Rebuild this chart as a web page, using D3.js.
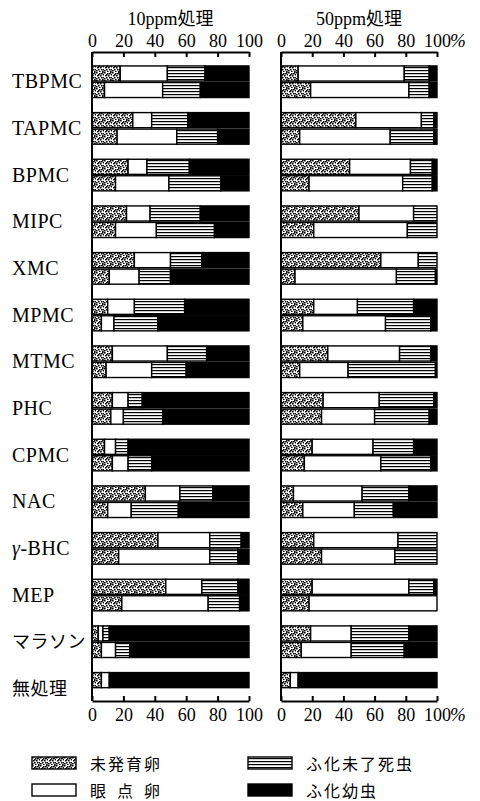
<!DOCTYPE html>
<html>
<head>
<meta charset="utf-8">
<script src="https://cdn.jsdelivr.net/npm/d3@7"></script>
<style>
  body { margin: 0; background: #fff; }
</style>
</head>
<body>
<div id="chart-area"></div>
<script>
// 薬剤ごとのふ化調査 (上段/下段の2本, 単位 %)
var categories = ["TBPMC", "TAPMC", "BPMC", "MIPC", "XMC", "MPMC", "MTMC",
                  "PHC", "CPMC", "NAC", "γ-BHC", "MEP", "マラソン", "無処理"];
var stages = ["未発育卵", "眼点卵", "ふ化未了死虫", "ふ化幼虫"];
var panelTitles = ["10ppm処理", "50ppm処理"];
var tickValues = [0, 20, 40, 60, 80, 100];

// [未発育卵, 眼点卵, ふ化未了死虫, ふ化幼虫]
var ppm10Upper = [
  [18, 30, 24, 28], [26, 12, 23, 39], [23, 12, 27, 38], [22, 15, 32, 31],
  [27, 23, 20, 30], [10, 17, 32, 41], [13, 35, 25, 27], [13, 10, 9, 68],
  [8, 7, 8, 77], [34, 22, 21, 23], [42, 33, 20, 5], [47, 23, 23, 7],
  [4, 3, 4, 89], [6, 5, 0, 89]
];
var ppm10Lower = [
  [8, 37, 24, 31], [16, 38, 26, 20], [15, 34, 33, 18], [15, 26, 37, 22],
  [11, 19, 20, 50], [6, 8, 28, 58], [9, 29, 22, 40], [12, 8, 25, 55],
  [13, 10, 15, 62], [10, 15, 30, 45], [17, 58, 18, 7], [19, 55, 20, 6],
  [6, 9, 9, 76], null
];
var ppm50Upper = [
  [11, 68, 16, 5], [48, 42, 8, 2], [44, 39, 14, 3], [50, 35, 15, 0],
  [64, 24, 12, 0], [21, 28, 36, 15], [30, 46, 20, 4], [27, 36, 35, 2],
  [20, 39, 26, 15], [8, 44, 30, 18], [21, 54, 25, 0], [20, 62, 16, 2],
  [19, 26, 37, 18], [6, 5, 0, 89]
];
var ppm50Lower = [
  [19, 63, 13, 5], [12, 58, 28, 2], [18, 60, 19, 3], [21, 60, 19, 0],
  [9, 65, 25, 1], [14, 53, 29, 4], [12, 31, 56, 1], [26, 34, 35, 5],
  [15, 49, 32, 4], [14, 33, 25, 28], [26, 47, 27, 0], [18, 82, 0, 0],
  [13, 32, 34, 21], null
];

var W = 480, H = 801;
var serif = "'Liberation Serif', 'DejaVu Serif', 'Noto Sans CJK JP', serif";
var cjk = "'Noto Sans CJK JP', sans-serif";
var axisTopY = 52, axisBottomY = 701;

var svg = d3.select('#chart-area').append('svg')
    .attr('width', W)
    .attr('height', H);

svg.append('rect').attr('width', W).attr('height', H).attr('fill', '#fff');

// 模様
var defs = svg.append('defs');
var stip = defs.append('pattern')
    .attr('id', 'stipple')
    .attr('patternUnits', 'userSpaceOnUse')
    .attr('width', 8).attr('height', 8);
stip.append('rect').attr('width', 8).attr('height', 8).attr('fill', '#fff');
var dots = [[0,0],[3,1],[6,0],[1,3],[4,3],[7,2],[2,5],[5,5],[0,6],[6,7],[3,7],[7,5],[5,1],[2,2]];
dots.forEach(function(p){
  stip.append('rect').attr('x', p[0]).attr('y', p[1])
      .attr('width', 1.6).attr('height', 1.5).attr('fill', '#000');
});
var hatch = defs.append('pattern')
    .attr('id', 'hatch')
    .attr('patternUnits', 'userSpaceOnUse')
    .attr('width', 6).attr('height', 3);
hatch.append('rect').attr('width', 6).attr('height', 3).attr('fill', '#fff');
hatch.append('rect').attr('y', 1).attr('width', 6).attr('height', 1.2).attr('fill', '#000');

var fills = d3.scaleOrdinal()
    .domain(stages)
    .range(['url(#stipple)', '#fff', 'url(#hatch)', '#000']);

// 縦方向
var y = d3.scaleBand()
    .domain(categories)
    .range([58.4, 711.7]);
var rowH = 16.5;

// 薬剤名
var labels = svg.append('g').selectAll('text')
    .data(categories)
    .enter()
    .append('text')
      .attr('x', 12)
      .attr('y', function(d){ return y(d) + y.bandwidth() / 2 + 6.5; })
      .attr('font-family', function(d){ return /[A-Z]/.test(d) ? serif : cjk; })
      .attr('font-size', function(d){ return /[A-Z]/.test(d) ? 20 : 18; })
      .attr('letter-spacing', function(d){ return /[A-Z]/.test(d) ? 0.5 : 0.5; })
      .attr('fill', '#000');
labels.each(function(d){
  var t = d3.select(this);
  if (d.charAt(0) === 'γ') {
    t.append('tspan').attr('font-style', 'italic').text('γ');
    t.append('tspan').text(d.slice(1));
  } else {
    t.text(d);
  }
});

var panels = [
  { title: panelTitles[0], upper: ppm10Upper, lower: ppm10Lower, range: [92, 249], pct: false },
  { title: panelTitles[1], upper: ppm50Upper, lower: ppm50Lower, range: [281, 437], pct: true }
];

function stackRow(vals) {
  var start = 0;
  return vals.map(function(v, i){
    var seg = { stage: stages[i], x0: start, x1: start + v };
    start += v;
    return seg;
  }).filter(function(s){ return s.x1 > s.x0; });
}

panels.forEach(function(p){
  var x = d3.scaleLinear().domain([0, 100]).range(p.range);
  var g = svg.append('g');

  // 棒
  [p.upper, p.lower].forEach(function(rows, r){
    rows.forEach(function(vals, i){
      if (!vals) return;
      var top = y(categories[i]) + y.bandwidth() / 2 - rowH + r * rowH;
      g.append('g').selectAll('rect')
        .data(stackRow(vals))
        .enter()
        .append('rect')
          .attr('x', function(d){ return x(d.x0); })
          .attr('y', top + 0.7)
          .attr('width', function(d){ return x(d.x1) - x(d.x0); })
          .attr('height', rowH - 1.4)
          .attr('fill', function(d){ return fills(d.stage); })
          .attr('stroke', '#000')
          .attr('stroke-width', 1.4);
    });
  });

  // 軸
  var axT = g.append('g')
      .attr('transform', 'translate(0,' + axisTopY + ')')
      .call(d3.axisTop(x).tickValues(tickValues).tickSize(-5).tickSizeOuter(0).tickPadding(5));
  var axB = g.append('g')
      .attr('transform', 'translate(0,' + axisBottomY + ')')
      .call(d3.axisBottom(x).tickValues(tickValues).tickSize(-5).tickSizeOuter(0).tickPadding(7));
  [axT, axB].forEach(function(ax){
    ax.attr('font-family', serif).attr('font-size', 18);
    ax.select('.domain').attr('stroke-width', 2);
    ax.selectAll('.tick line').attr('stroke-width', 2);
    ax.selectAll('.tick text').attr('fill', '#000');
    if (p.pct) {
      ax.append('text')
        .attr('x', x(100) + 13)
        .attr('y', ax === axT ? -5 : 7)
        .attr('dy', ax === axT ? '0em' : '0.71em')
        .attr('fill', '#000')
        .attr('text-anchor', 'start')
        .attr('font-style', 'italic')
        .attr('font-size', 19)
        .text('%');
    }
  });

  g.append('line')
      .attr('x1', x(0)).attr('x2', x(0))
      .attr('y1', axisTopY).attr('y2', axisBottomY)
      .attr('stroke', '#000').attr('stroke-width', 2);

  g.append('text')
      .attr('x', (p.range[0] + p.range[1]) / 2)
      .attr('y', 25)
      .attr('text-anchor', 'middle')
      .attr('font-family', serif)
      .attr('font-size', 18)
      .text(p.title);
});

// 凡例
var legendPos = [[32, 757], [32, 784], [248, 757], [248, 784]];
var legendText = ["未発育卵", "眼点卵", "ふ化未了死虫", "ふ化幼虫"];
var leg = svg.append('g').selectAll('g')
    .data(stages)
    .enter()
    .append('g')
      .attr('transform', function(d, i){ return 'translate(' + legendPos[i][0] + ',' + legendPos[i][1] + ')'; });
leg.append('rect')
    .attr('width', 44).attr('height', 12)
    .attr('fill', function(d){ return fills(d); })
    .attr('stroke', '#000').attr('stroke-width', 1.4);
leg.append('text')
    .attr('x', 58)
    .attr('y', 12.5)
    .attr('font-family', cjk)
    .attr('font-size', 16)
    .attr('letter-spacing', function(d, i){ return i === 1 ? 11 : 2; })
    .attr('fill', '#000')
    .text(function(d, i){ return legendText[i]; });
</script>
</body>
</html>
